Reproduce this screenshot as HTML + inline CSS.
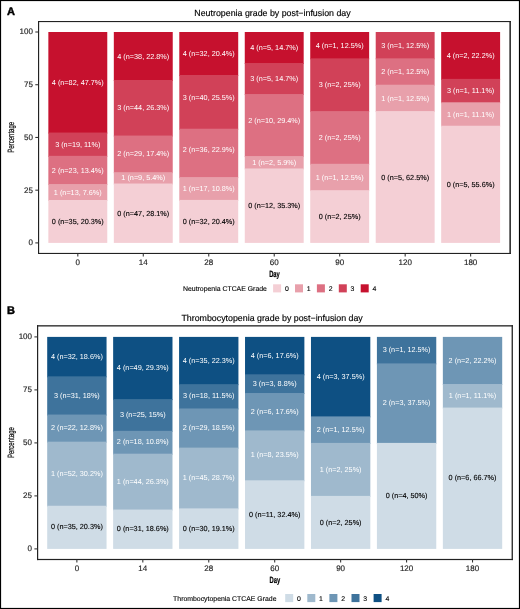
<!DOCTYPE html>
<html><head><meta charset="utf-8"><style>
html,body{margin:0;padding:0;background:#fff;}
body{width:520px;height:609px;overflow:hidden;}
svg{display:block;font-family:"Liberation Sans", sans-serif;will-change:transform;text-rendering:geometricPrecision;}
.lbl{font-size:7.28px;text-anchor:middle;}
.dk{stroke:#000;stroke-width:0.12px;}
.tk{font-size:8px;fill:#222;stroke:#222;stroke-width:0.15px;}
.ttl{font-size:8.83px;fill:#000;stroke:#000;stroke-width:0.15px;}
.pl{font-size:11px;font-weight:bold;fill:#000;stroke:#000;stroke-width:0.45px;}
.yl{font-size:9.1px;fill:#111;stroke:#111;stroke-width:0.25px;}
.xl{font-size:9px;font-weight:bold;fill:#000;stroke:#000;stroke-width:0.2px;}
.lg{font-size:6.9px;fill:#000;stroke:#000;stroke-width:0.12px;}
</style></head><body>
<svg width="520" height="609" viewBox="0 0 520 609">
<rect x="0.5" y="0.5" width="519" height="608" fill="#fff" stroke="#000" stroke-width="1.2"/>
<rect x="48.35" y="32.00" width="58.92" height="101.55" fill="#C6112E"/>
<rect x="48.35" y="132.55" width="58.92" height="24.30" fill="#D14158"/>
<rect x="48.35" y="155.84" width="58.92" height="29.20" fill="#DD7082"/>
<rect x="48.35" y="184.04" width="58.92" height="16.94" fill="#E8A0AB"/>
<rect x="48.35" y="199.98" width="58.92" height="42.92" fill="#F4CFD5"/>
<text x="77.81" y="224.04" class="lbl dk" fill="#000000">0 (n=35, 20.3%)</text>
<text x="77.81" y="194.61" class="lbl" fill="#ffffff">1 (n=13, 7.6%)</text>
<text x="77.81" y="172.54" class="lbl" fill="#ffffff">2 (n=23, 13.4%)</text>
<text x="77.81" y="146.79" class="lbl" fill="#ffffff">3 (n=19, 11%)</text>
<text x="77.81" y="84.87" class="lbl" fill="#ffffff">4 (n=82, 47.7%)</text>
<rect x="113.82" y="32.00" width="58.92" height="48.99" fill="#C6112E"/>
<rect x="113.82" y="79.99" width="58.92" height="56.57" fill="#D14158"/>
<rect x="113.82" y="135.56" width="58.92" height="37.62" fill="#DD7082"/>
<rect x="113.82" y="172.18" width="58.92" height="12.37" fill="#E8A0AB"/>
<rect x="113.82" y="183.54" width="58.92" height="59.36" fill="#F4CFD5"/>
<text x="143.28" y="215.82" class="lbl dk" fill="#000000">0 (n=47, 28.1%)</text>
<text x="143.28" y="180.46" class="lbl" fill="#ffffff">1 (n=9, 5.4%)</text>
<text x="143.28" y="156.47" class="lbl" fill="#ffffff">2 (n=29, 17.4%)</text>
<text x="143.28" y="110.37" class="lbl" fill="#ffffff">3 (n=44, 26.3%)</text>
<text x="143.28" y="58.59" class="lbl" fill="#ffffff">4 (n=38, 22.8%)</text>
<rect x="179.29" y="32.00" width="58.92" height="43.99" fill="#C6112E"/>
<rect x="179.29" y="74.99" width="58.92" height="54.73" fill="#D14158"/>
<rect x="179.29" y="128.72" width="58.92" height="49.36" fill="#DD7082"/>
<rect x="179.29" y="177.08" width="58.92" height="23.84" fill="#E8A0AB"/>
<rect x="179.29" y="199.91" width="58.92" height="42.99" fill="#F4CFD5"/>
<text x="208.75" y="224.01" class="lbl dk" fill="#000000">0 (n=32, 20.4%)</text>
<text x="208.75" y="191.10" class="lbl" fill="#ffffff">1 (n=17, 10.8%)</text>
<text x="208.75" y="151.50" class="lbl" fill="#ffffff">2 (n=36, 22.9%)</text>
<text x="208.75" y="100.25" class="lbl" fill="#ffffff">3 (n=40, 25.5%)</text>
<text x="208.75" y="56.09" class="lbl" fill="#ffffff">4 (n=32, 20.4%)</text>
<rect x="244.76" y="32.00" width="58.92" height="32.01" fill="#C6112E"/>
<rect x="244.76" y="63.01" width="58.92" height="32.01" fill="#D14158"/>
<rect x="244.76" y="94.03" width="58.92" height="63.03" fill="#DD7082"/>
<rect x="244.76" y="156.06" width="58.92" height="13.41" fill="#E8A0AB"/>
<rect x="244.76" y="168.46" width="58.92" height="74.44" fill="#F4CFD5"/>
<text x="274.23" y="208.28" class="lbl dk" fill="#000000">0 (n=12, 35.3%)</text>
<text x="274.23" y="164.86" class="lbl" fill="#ffffff">1 (n=2, 5.9%)</text>
<text x="274.23" y="123.24" class="lbl" fill="#ffffff">2 (n=10, 29.4%)</text>
<text x="274.23" y="81.12" class="lbl" fill="#ffffff">3 (n=5, 14.7%)</text>
<text x="274.23" y="50.11" class="lbl" fill="#ffffff">4 (n=5, 14.7%)</text>
<rect x="310.23" y="32.00" width="58.92" height="27.36" fill="#C6112E"/>
<rect x="310.23" y="58.36" width="58.92" height="53.72" fill="#D14158"/>
<rect x="310.23" y="111.09" width="58.92" height="53.72" fill="#DD7082"/>
<rect x="310.23" y="163.81" width="58.92" height="27.36" fill="#E8A0AB"/>
<rect x="310.23" y="190.18" width="58.92" height="52.72" fill="#F4CFD5"/>
<text x="339.70" y="219.14" class="lbl dk" fill="#000000">0 (n=2, 25%)</text>
<text x="339.70" y="179.59" class="lbl" fill="#ffffff">1 (n=1, 12.5%)</text>
<text x="339.70" y="140.05" class="lbl" fill="#ffffff">2 (n=2, 25%)</text>
<text x="339.70" y="87.33" class="lbl" fill="#ffffff">3 (n=2, 25%)</text>
<text x="339.70" y="47.78" class="lbl" fill="#ffffff">4 (n=1, 12.5%)</text>
<rect x="375.71" y="32.00" width="58.92" height="27.36" fill="#D14158"/>
<rect x="375.71" y="58.36" width="58.92" height="27.36" fill="#DD7082"/>
<rect x="375.71" y="84.72" width="58.92" height="27.36" fill="#E8A0AB"/>
<rect x="375.71" y="111.09" width="58.92" height="131.81" fill="#F4CFD5"/>
<text x="405.17" y="179.59" class="lbl dk" fill="#000000">0 (n=5, 62.5%)</text>
<text x="405.17" y="100.51" class="lbl" fill="#ffffff">1 (n=1, 12.5%)</text>
<text x="405.17" y="74.14" class="lbl" fill="#ffffff">2 (n=1, 12.5%)</text>
<text x="405.17" y="47.78" class="lbl" fill="#ffffff">3 (n=1, 12.5%)</text>
<rect x="441.18" y="32.00" width="58.92" height="47.87" fill="#C6112E"/>
<rect x="441.18" y="78.87" width="58.92" height="24.43" fill="#D14158"/>
<rect x="441.18" y="102.30" width="58.92" height="24.43" fill="#E8A0AB"/>
<rect x="441.18" y="125.73" width="58.92" height="117.17" fill="#F4CFD5"/>
<text x="470.64" y="186.92" class="lbl dk" fill="#000000">0 (n=5, 55.6%)</text>
<text x="470.64" y="116.62" class="lbl" fill="#ffffff">1 (n=1, 11.1%)</text>
<text x="470.64" y="93.18" class="lbl" fill="#ffffff">3 (n=1, 11.1%)</text>
<text x="470.64" y="58.03" class="lbl" fill="#ffffff">4 (n=2, 22.2%)</text>
<rect x="38.0" y="21.0" width="1.15" height="233.00" fill="#222"/>
<rect x="509.4" y="21.0" width="1.50" height="233.00" fill="#222"/>
<rect x="38.0" y="21.0" width="472.90" height="1.10" fill="#222"/>
<rect x="38.0" y="252.9" width="472.90" height="1.10" fill="#222"/>
<line x1="35.30" y1="242.90" x2="38.50" y2="242.90" stroke="#333" stroke-width="1.07"/>
<text x="32.90" y="245.30" class="tk" text-anchor="end">0</text>
<line x1="35.30" y1="190.18" x2="38.50" y2="190.18" stroke="#333" stroke-width="1.07"/>
<text x="32.90" y="192.58" class="tk" text-anchor="end">25</text>
<line x1="35.30" y1="137.45" x2="38.50" y2="137.45" stroke="#333" stroke-width="1.07"/>
<text x="32.90" y="139.85" class="tk" text-anchor="end">50</text>
<line x1="35.30" y1="84.72" x2="38.50" y2="84.72" stroke="#333" stroke-width="1.07"/>
<text x="32.90" y="87.12" class="tk" text-anchor="end">75</text>
<line x1="35.30" y1="32.00" x2="38.50" y2="32.00" stroke="#333" stroke-width="1.07"/>
<text x="32.90" y="34.40" class="tk" text-anchor="end">100</text>
<line x1="77.81" y1="253.50" x2="77.81" y2="256.50" stroke="#333" stroke-width="1.07"/>
<text x="77.81" y="265.00" class="tk" text-anchor="middle">0</text>
<line x1="143.28" y1="253.50" x2="143.28" y2="256.50" stroke="#333" stroke-width="1.07"/>
<text x="143.28" y="265.00" class="tk" text-anchor="middle">14</text>
<line x1="208.75" y1="253.50" x2="208.75" y2="256.50" stroke="#333" stroke-width="1.07"/>
<text x="208.75" y="265.00" class="tk" text-anchor="middle">28</text>
<line x1="274.23" y1="253.50" x2="274.23" y2="256.50" stroke="#333" stroke-width="1.07"/>
<text x="274.23" y="265.00" class="tk" text-anchor="middle">60</text>
<line x1="339.70" y1="253.50" x2="339.70" y2="256.50" stroke="#333" stroke-width="1.07"/>
<text x="339.70" y="265.00" class="tk" text-anchor="middle">90</text>
<line x1="405.17" y1="253.50" x2="405.17" y2="256.50" stroke="#333" stroke-width="1.07"/>
<text x="405.17" y="265.00" class="tk" text-anchor="middle">120</text>
<line x1="470.64" y1="253.50" x2="470.64" y2="256.50" stroke="#333" stroke-width="1.07"/>
<text x="470.64" y="265.00" class="tk" text-anchor="middle">180</text>
<rect x="47.20" y="336.90" width="59.35" height="40.44" fill="#0E5083"/>
<rect x="47.20" y="376.34" width="59.35" height="39.21" fill="#3E739C"/>
<rect x="47.20" y="414.55" width="59.35" height="28.12" fill="#6E96B5"/>
<rect x="47.20" y="441.67" width="59.35" height="65.09" fill="#9FB9CD"/>
<rect x="47.20" y="505.76" width="59.35" height="43.14" fill="#CFDCE6"/>
<text x="76.87" y="529.43" class="lbl dk" fill="#000000">0 (n=35, 20.3%)</text>
<text x="76.87" y="475.81" class="lbl" fill="#ffffff">1 (n=52, 30.2%)</text>
<text x="76.87" y="430.21" class="lbl" fill="#ffffff">2 (n=22, 12.8%)</text>
<text x="76.87" y="397.55" class="lbl" fill="#ffffff">3 (n=31, 18%)</text>
<text x="76.87" y="358.72" class="lbl" fill="#ffffff">4 (n=32, 18.6%)</text>
<rect x="113.14" y="336.90" width="59.35" height="63.20" fill="#0E5083"/>
<rect x="113.14" y="399.10" width="59.35" height="32.74" fill="#3E739C"/>
<rect x="113.14" y="430.84" width="59.35" height="23.85" fill="#6E96B5"/>
<rect x="113.14" y="453.69" width="59.35" height="56.86" fill="#9FB9CD"/>
<rect x="113.14" y="509.55" width="59.35" height="39.35" fill="#CFDCE6"/>
<text x="142.82" y="531.32" class="lbl dk" fill="#000000">0 (n=31, 18.6%)</text>
<text x="142.82" y="483.72" class="lbl" fill="#ffffff">1 (n=44, 26.3%)</text>
<text x="142.82" y="444.37" class="lbl" fill="#ffffff">2 (n=18, 10.8%)</text>
<text x="142.82" y="417.07" class="lbl" fill="#ffffff">3 (n=25, 15%)</text>
<text x="142.82" y="370.10" class="lbl" fill="#ffffff">4 (n=49, 29.3%)</text>
<rect x="179.08" y="336.90" width="59.35" height="48.26" fill="#0E5083"/>
<rect x="179.08" y="384.16" width="59.35" height="25.31" fill="#3E739C"/>
<rect x="179.08" y="408.47" width="59.35" height="40.16" fill="#6E96B5"/>
<rect x="179.08" y="447.63" width="59.35" height="61.76" fill="#9FB9CD"/>
<rect x="179.08" y="508.39" width="59.35" height="40.51" fill="#CFDCE6"/>
<text x="208.76" y="530.75" class="lbl dk" fill="#000000">0 (n=30, 19.1%)</text>
<text x="208.76" y="480.11" class="lbl" fill="#ffffff">1 (n=45, 28.7%)</text>
<text x="208.76" y="430.15" class="lbl" fill="#ffffff">2 (n=29, 18.5%)</text>
<text x="208.76" y="398.41" class="lbl" fill="#ffffff">3 (n=18, 11.5%)</text>
<text x="208.76" y="362.63" class="lbl" fill="#ffffff">4 (n=35, 22.3%)</text>
<rect x="245.03" y="336.90" width="59.35" height="38.41" fill="#0E5083"/>
<rect x="245.03" y="374.31" width="59.35" height="19.71" fill="#3E739C"/>
<rect x="245.03" y="393.02" width="59.35" height="38.41" fill="#6E96B5"/>
<rect x="245.03" y="430.43" width="59.35" height="50.88" fill="#9FB9CD"/>
<rect x="245.03" y="480.31" width="59.35" height="68.59" fill="#CFDCE6"/>
<text x="274.70" y="516.71" class="lbl dk" fill="#000000">0 (n=11, 32.4%)</text>
<text x="274.70" y="457.47" class="lbl" fill="#ffffff">1 (n=8, 23.5%)</text>
<text x="274.70" y="413.82" class="lbl" fill="#ffffff">2 (n=6, 17.6%)</text>
<text x="274.70" y="385.76" class="lbl" fill="#ffffff">3 (n=3, 8.8%)</text>
<text x="274.70" y="357.71" class="lbl" fill="#ffffff">4 (n=6, 17.6%)</text>
<rect x="310.97" y="336.90" width="59.35" height="80.50" fill="#0E5083"/>
<rect x="310.97" y="416.40" width="59.35" height="27.50" fill="#6E96B5"/>
<rect x="310.97" y="442.90" width="59.35" height="54.00" fill="#9FB9CD"/>
<rect x="310.97" y="495.90" width="59.35" height="53.00" fill="#CFDCE6"/>
<text x="340.64" y="524.50" class="lbl dk" fill="#000000">0 (n=2, 25%)</text>
<text x="340.64" y="471.50" class="lbl" fill="#ffffff">1 (n=2, 25%)</text>
<text x="340.64" y="431.75" class="lbl" fill="#ffffff">2 (n=1, 12.5%)</text>
<text x="340.64" y="378.75" class="lbl" fill="#ffffff">4 (n=3, 37.5%)</text>
<rect x="376.91" y="336.90" width="59.35" height="27.50" fill="#3E739C"/>
<rect x="376.91" y="363.40" width="59.35" height="80.50" fill="#6E96B5"/>
<rect x="376.91" y="442.90" width="59.35" height="106.00" fill="#CFDCE6"/>
<text x="406.58" y="498.00" class="lbl dk" fill="#000000">0 (n=4, 50%)</text>
<text x="406.58" y="405.25" class="lbl" fill="#ffffff">2 (n=3, 37.5%)</text>
<text x="406.58" y="352.25" class="lbl" fill="#ffffff">3 (n=1, 12.5%)</text>
<rect x="442.85" y="336.90" width="59.35" height="48.11" fill="#6E96B5"/>
<rect x="442.85" y="384.01" width="59.35" height="24.56" fill="#9FB9CD"/>
<rect x="442.85" y="407.57" width="59.35" height="141.33" fill="#CFDCE6"/>
<text x="472.53" y="480.33" class="lbl dk" fill="#000000">0 (n=6, 66.7%)</text>
<text x="472.53" y="397.89" class="lbl" fill="#ffffff">1 (n=1, 11.1%)</text>
<text x="472.53" y="362.56" class="lbl" fill="#ffffff">2 (n=2, 22.2%)</text>
<rect x="37.0" y="325.2" width="1.20" height="234.90" fill="#222"/>
<rect x="511.6" y="325.2" width="1.30" height="234.90" fill="#222"/>
<rect x="37.0" y="325.2" width="475.90" height="1.30" fill="#222"/>
<rect x="37.0" y="558.9" width="475.90" height="1.20" fill="#222"/>
<line x1="34.40" y1="548.90" x2="37.60" y2="548.90" stroke="#333" stroke-width="1.07"/>
<text x="32.00" y="551.30" class="tk" text-anchor="end">0</text>
<line x1="34.40" y1="495.90" x2="37.60" y2="495.90" stroke="#333" stroke-width="1.07"/>
<text x="32.00" y="498.30" class="tk" text-anchor="end">25</text>
<line x1="34.40" y1="442.90" x2="37.60" y2="442.90" stroke="#333" stroke-width="1.07"/>
<text x="32.00" y="445.30" class="tk" text-anchor="end">50</text>
<line x1="34.40" y1="389.90" x2="37.60" y2="389.90" stroke="#333" stroke-width="1.07"/>
<text x="32.00" y="392.30" class="tk" text-anchor="end">75</text>
<line x1="34.40" y1="336.90" x2="37.60" y2="336.90" stroke="#333" stroke-width="1.07"/>
<text x="32.00" y="339.30" class="tk" text-anchor="end">100</text>
<line x1="76.87" y1="559.50" x2="76.87" y2="562.50" stroke="#333" stroke-width="1.07"/>
<text x="76.87" y="571.00" class="tk" text-anchor="middle">0</text>
<line x1="142.82" y1="559.50" x2="142.82" y2="562.50" stroke="#333" stroke-width="1.07"/>
<text x="142.82" y="571.00" class="tk" text-anchor="middle">14</text>
<line x1="208.76" y1="559.50" x2="208.76" y2="562.50" stroke="#333" stroke-width="1.07"/>
<text x="208.76" y="571.00" class="tk" text-anchor="middle">28</text>
<line x1="274.70" y1="559.50" x2="274.70" y2="562.50" stroke="#333" stroke-width="1.07"/>
<text x="274.70" y="571.00" class="tk" text-anchor="middle">60</text>
<line x1="340.64" y1="559.50" x2="340.64" y2="562.50" stroke="#333" stroke-width="1.07"/>
<text x="340.64" y="571.00" class="tk" text-anchor="middle">90</text>
<line x1="406.58" y1="559.50" x2="406.58" y2="562.50" stroke="#333" stroke-width="1.07"/>
<text x="406.58" y="571.00" class="tk" text-anchor="middle">120</text>
<line x1="472.53" y1="559.50" x2="472.53" y2="562.50" stroke="#333" stroke-width="1.07"/>
<text x="472.53" y="571.00" class="tk" text-anchor="middle">180</text>
<text x="272.5" y="15.9" class="ttl" text-anchor="middle">Neutropenia grade by post−infusion day</text>
<text x="272.1" y="321" class="ttl" text-anchor="middle">Thrombocytopenia grade by post−infusion day</text>
<text x="7" y="15.4" class="pl">A</text>
<text x="6.9" y="313.5" class="pl">B</text>
<text class="yl" transform="translate(14.0,137.3) rotate(-90) scale(0.667,1)" text-anchor="middle">Percentage</text>
<text class="yl" transform="translate(14.0,442.6) rotate(-90) scale(0.667,1)" text-anchor="middle">Percentage</text>
<text class="xl" transform="translate(274.5,277.0) scale(0.645,1)" text-anchor="middle">Day</text>
<text class="xl" transform="translate(274.8,583.3) scale(0.645,1)" text-anchor="middle">Day</text>
<text x="183.00" y="291.20" class="lg">Neutropenia CTCAE Grade</text>
<rect x="273.10" y="284.30" width="8" height="8.1" fill="#F4CFD5"/>
<text x="284.90" y="291.20" class="lg">0</text>
<rect x="295.00" y="284.30" width="8" height="8.1" fill="#E8A0AB"/>
<text x="306.80" y="291.20" class="lg">1</text>
<rect x="316.90" y="284.30" width="8" height="8.1" fill="#DD7082"/>
<text x="328.70" y="291.20" class="lg">2</text>
<rect x="338.80" y="284.30" width="8" height="8.1" fill="#D14158"/>
<text x="350.60" y="291.20" class="lg">3</text>
<rect x="360.70" y="284.30" width="8" height="8.1" fill="#C6112E"/>
<text x="372.50" y="291.20" class="lg">4</text>
<text x="173.10" y="601.00" class="lg">Thrombocytopenia CTCAE Grade</text>
<rect x="285.20" y="594.00" width="8" height="8.1" fill="#CFDCE6"/>
<text x="297.00" y="601.00" class="lg">0</text>
<rect x="307.30" y="594.00" width="8" height="8.1" fill="#9FB9CD"/>
<text x="319.10" y="601.00" class="lg">1</text>
<rect x="329.40" y="594.00" width="8" height="8.1" fill="#6E96B5"/>
<text x="341.20" y="601.00" class="lg">2</text>
<rect x="351.50" y="594.00" width="8" height="8.1" fill="#3E739C"/>
<text x="363.30" y="601.00" class="lg">3</text>
<rect x="373.60" y="594.00" width="8" height="8.1" fill="#0E5083"/>
<text x="385.40" y="601.00" class="lg">4</text>
</svg>
</body></html>
